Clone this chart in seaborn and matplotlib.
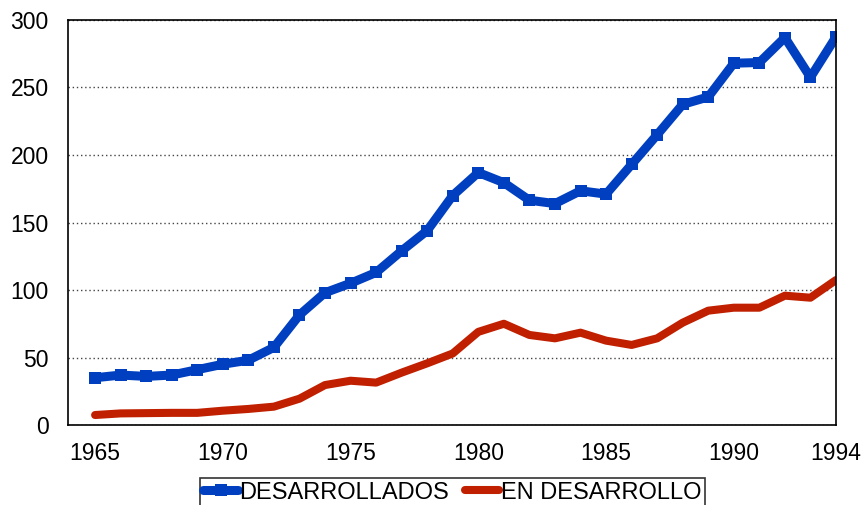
import numpy as np
import pandas as pd
import seaborn as sns
import matplotlib.pyplot as plt

sns.set_style("white")
plt.rcParams['font.family'] = ['Liberation Sans', 'DejaVu Sans']

years = list(range(1965, 1995))
desarrollados = [35, 37, 36, 37, 41, 45, 48, 57.5, 81.5, 98, 105, 113, 129, 144, 170, 187, 179.5,
                 166.5, 164, 173.5, 171, 193, 215, 237.5, 243, 268, 268.5, 287, 257.5, 287.5]
en_desarrollo = [7.4, 8.6, 8.8, 9, 9, 10.6, 11.9, 13.6, 19.5, 29.6, 32.8, 31.4, 38.8, 45.7, 53,
                 69, 75, 66.7, 64.2, 68.4, 62.5, 59.3, 64.2, 75.8, 84.7, 86.9, 86.9, 95.8, 94.3, 107.4]

df = pd.DataFrame({"year": years, "des": desarrollados, "endes": en_desarrollo})

fig = plt.figure(figsize=(8.63, 5.05), dpi=100)
ax = fig.add_axes([0.0791, 0.1584, 0.9687 - 0.0791, 0.9604 - 0.1584])

sns.lineplot(data=df, x="year", y="des", ax=ax, color="#0040C0", linewidth=6.5,
             marker="s", markersize=8.5, markeredgewidth=0, label="DESARROLLADOS")
sns.lineplot(data=df, x="year", y="endes", ax=ax, color="#C02000", linewidth=5.8,
             solid_capstyle="round", label="EN DESARROLLO")

ax.set_xlim(1963.95, 1994)
ax.set_ylim(0, 300)
ax.set_xticks([1965, 1970, 1975, 1980, 1985, 1990, 1994])
ax.set_yticks(np.arange(0, 301, 50))
ax.yaxis.grid(True, linestyle=(0, (1, 2)), color="#444444", linewidth=1)
ax.set_axisbelow(True)
ax.set_xlabel("")
ax.set_ylabel("")
for s in ax.spines.values():
    s.set_visible(True)
    s.set_color("black")
    s.set_linewidth(1.2)
ax.tick_params(axis="both", length=0, labelsize=16.5, colors="black")
ax.tick_params(axis="y", pad=14)
ax.tick_params(axis="x", pad=12)

h, l = ax.get_legend_handles_labels()
ax.get_legend().remove()
leg = fig.legend(h, l, loc="upper center", bbox_to_anchor=(0.524, 0.0535), ncol=2,
                 fontsize=17, frameon=True, fancybox=False, handlelength=1.45,
                 handletextpad=0.05, columnspacing=0.7, borderpad=0.15, borderaxespad=0)
leg.get_frame().set_edgecolor("black")
leg.get_frame().set_linewidth(1.2)
for t in leg.get_texts():
    t.set_color("black")

fig.savefig("out.png", dpi=100)
